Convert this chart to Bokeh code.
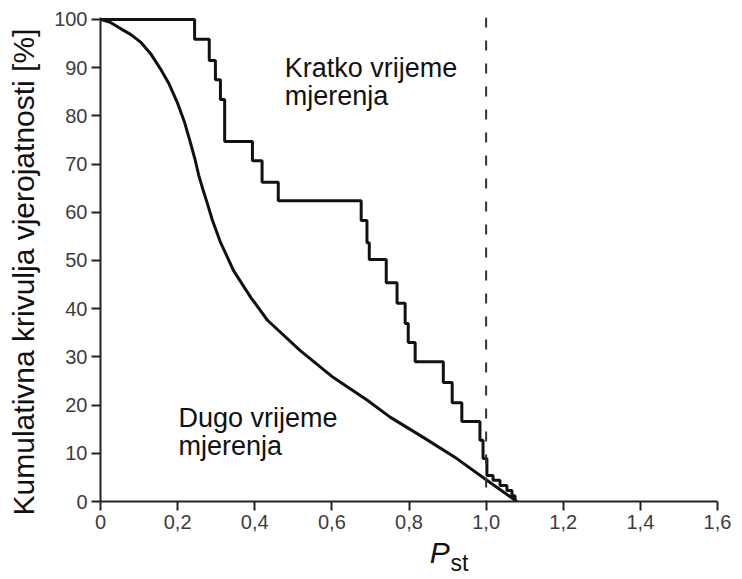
from bokeh.plotting import figure
from bokeh.models import Range1d, FixedTicker, CustomJSTickFormatter, Span, LinearAxis
from bokeh.core.properties import value
from bokeh.embed import file_html
from bokeh.resources import INLINE

# Short-term measurement: step levels (x where the level starts, cumulative %)
short_x = [0.0, 0.244, 0.282, 0.298, 0.311, 0.322, 0.394, 0.419, 0.461, 0.676,
           0.691, 0.697, 0.741, 0.769, 0.790, 0.798, 0.816, 0.889, 0.912, 0.937,
           0.984, 0.992, 1.002, 1.018, 1.036, 1.054, 1.067, 1.075]
short_y = [100.0, 95.9, 91.5, 87.5, 83.4, 74.7, 70.7, 66.2, 62.4, 58.3,
           53.7, 50.2, 45.4, 41.1, 36.9, 33.0, 29.0, 24.7, 20.5, 16.6,
           12.7, 8.9, 5.4, 4.4, 3.3, 2.3, 1.2, 0.0]

# Long-term measurement: smooth cumulative curve
long_x = [0.0, 0.025, 0.052, 0.078, 0.104, 0.13, 0.155, 0.178, 0.199, 0.217,
          0.233, 0.245, 0.255, 0.266, 0.276, 0.29, 0.311, 0.345, 0.39,
          0.433, 0.518, 0.604, 0.692, 0.751, 0.837, 0.924, 1.002, 1.08]
long_y = [100.0, 99.4, 98.1, 96.9, 95.3, 92.9, 89.8, 86.6, 82.8, 78.9,
          74.5, 71.0, 67.6, 64.6, 62.1, 58.4, 53.8, 47.9, 42.3,
          37.6, 31.3, 25.7, 21.0, 17.5, 13.3, 8.9, 4.4, 0.0]

limit_pst = 1.0
x_ticks = [0.0, 0.2, 0.4, 0.6, 0.8, 1.0, 1.2, 1.4, 1.6]
y_ticks = [0, 10, 20, 30, 40, 50, 60, 70, 80, 90, 100]

short_label = ["Kratko vrijeme", "mjerenja"]
long_label = ["Dugo vrijeme", "mjerenja"]
y_title = "Kumulativna krivulja vjerojatnosti [%]"
x_title_main = "P"
x_title_sub = "st"

FONT = "Liberation Sans"
INK = "#111111"

p = figure(width=740, height=579, output_backend="svg", toolbar_location=None,
           x_range=Range1d(0, 1.6), y_range=Range1d(0, 100.4),
           min_border_left=100, min_border_right=23, min_border_top=17,
           min_border_bottom=78)
p.outline_line_color = None
p.xgrid.visible = False
p.ygrid.visible = False

for ax in (p.xaxis[0], p.yaxis[0]):
    ax.axis_line_width = 2
    ax.axis_line_color = "#222222"
    ax.major_tick_line_width = 2
    ax.major_tick_line_color = "#222222"
    ax.major_tick_out = 9
    ax.major_tick_in = 0
    ax.minor_tick_line_color = None
    ax.major_label_text_font = FONT
    ax.major_label_text_font_size = "20px"
    ax.major_label_text_color = "#3c3c3c"

p.xaxis.ticker = FixedTicker(ticks=x_ticks)
p.yaxis.ticker = FixedTicker(ticks=y_ticks)
p.xaxis.formatter = CustomJSTickFormatter(
    code="return tick == 0 ? '0' : tick.toFixed(1).replace('.', ',');")
p.xaxis.major_label_standoff = 4
p.yaxis.major_label_standoff = 4

# trailing no-break spaces nudge the rotated title slightly downwards
p.yaxis.axis_label = y_title + "\u00a0" * 3
p.yaxis.axis_label_text_font = FONT
p.yaxis.axis_label_text_font_size = "30px"
p.yaxis.axis_label_text_font_style = "normal"
p.yaxis.axis_label_text_color = INK
p.yaxis.axis_label_standoff = 11


def title_axis(pos, txt, size, style, standoff):
    ax = LinearAxis(ticker=FixedTicker(ticks=[pos]),
                    formatter=CustomJSTickFormatter(code="return '%s';" % txt),
                    axis_line_color=None, major_tick_line_color=None,
                    minor_tick_line_color=None, major_tick_out=0, major_tick_in=0,
                    major_label_text_font=FONT, major_label_text_font_size=size,
                    major_label_text_font_style=style, major_label_text_color=INK,
                    major_label_standoff=standoff)
    p.add_layout(ax, "below")


# x-axis title P_st (italic P with subscript st)
title_axis(0.931, x_title_sub, "23px", "normal", 18)
title_axis(0.880, x_title_main, "30px", "italic", -43)

p.step(short_x, short_y, mode="after", line_width=3, line_color=INK)
p.line(long_x, long_y, line_width=3, line_color=INK)

p.add_layout(Span(location=limit_pst, dimension="height", line_dash="10 13",
                  line_width=2, line_color="#333333"))

p.text(x=[0.478, 0.478], y=[90.0, 84.2], text=short_label,
       text_font=value(FONT), text_font_size="27px", text_color=INK,
       text_baseline="alphabetic")
p.text(x=[0.202, 0.202], y=[17.4, 11.6], text=long_label,
       text_font=value(FONT), text_font_size="27px", text_color=INK,
       text_baseline="alphabetic")

open("out.html", "w").write(file_html(p, INLINE))
